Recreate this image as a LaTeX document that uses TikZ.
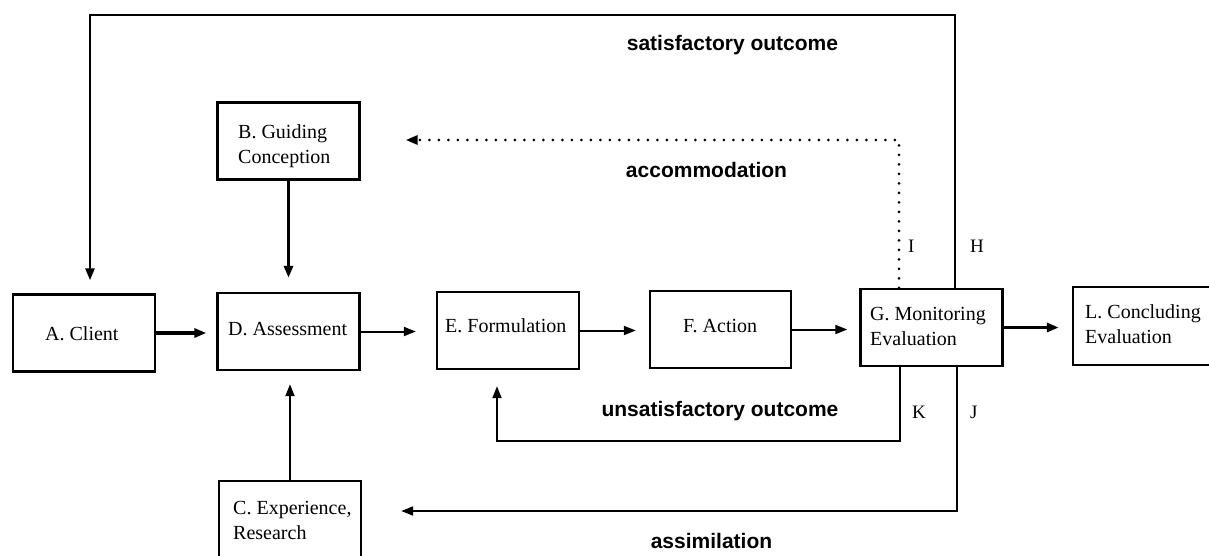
\documentclass[tikz,border=0pt]{standalone}
\usepackage{fontspec}
\setmainfont{Liberation Serif}
\newfontfamily\lblfont{Liberation Sans}
\usetikzlibrary{arrows.meta}
\begin{document}
\begin{tikzpicture}[x=1pt,y=-1pt,
  box/.style={draw,line width=2.4pt,inner sep=0pt,minimum width=142pt,minimum height=77pt},
  txt/.style={inner sep=0pt,align=left,font=\fontsize{20}{25}\selectfont,anchor=base west},
  letter/.style={inner sep=0pt,font=\fontsize{19}{22}\selectfont,anchor=base west},
  lbl/.style={inner sep=0pt,font=\lblfont\bfseries\fontsize{21}{24}\selectfont,anchor=base},
  tip/.style={-{Triangle[length=12pt,width=9pt]}},
  conn/.style={tip,line width=2pt},
  heavy/.style={tip,line width=3.5pt},
  dots/.style={-{Triangle[length=12pt,width=9pt]},line width=3pt,line cap=round,dash pattern=on 0pt off 9.5pt}
]
\useasboundingbox (0,0) rectangle (1209,555);
\clip (0,0) rectangle (1209,555);
% boxes
\node[box] (A) at (84,333) {};
\node[box] (B) at (288.5,141) {};
\node[box,minimum height=92pt] (C) at (290,527) {};
\node[box] (D) at (288.5,331.5) {};
\node[box] (E) at (508,330.5) {};
\node[box,minimum width=141pt] (F) at (720.5,329.5) {};
\node[box] (G) at (931.5,327.5) {};
\node[box,minimum width=152pt,minimum height=78pt] (L) at (1149,326) {};
% box texts (multi-line: base = last line)
\node[txt] (At) at (45,340) {A. Client};
\node[txt] (Bt) at (238,163) {B. Guiding\\Conception};
\node[txt] (Ct) at (233,539) {C. Experience,\\Research};
\node[txt] (Dt) at (228,335) {D. Assessment};
\node[txt] (Et) at (445,332) {E. Formulation};
\node[txt] (Ft) at (683,332) {F. Action};
\node[txt] (Gt) at (870,345) {G. Monitoring\\Evaluation};
\node[txt] (Lt) at (1085,343) {L. Concluding\\Evaluation};
% straight connectors
\draw[heavy,shorten >=10pt] (A.east) -- (A.east -| D.west);
\draw[conn,shorten >=20pt] (D.east) -- (D.east -| E.west);
\draw[conn,shorten >=13pt] (E.east) -- (E.east -| F.west);
\draw[conn,shorten >=12pt] (F.east) -- (F.east -| G.west);
\draw[heavy,shorten >=13pt] (G.east) -- (G.east -| L.west);
\draw[heavy,shorten >=14pt] (B.south) -- (B.south |- D.north);
\draw[conn,shorten >=13pt] (C.north) -- (C.north |- D.south);
% H: satisfactory outcome
\coordinate (h1) at (955,15);
\coordinate (h2) at (90,15);
\draw[conn,line width=2.6pt,shorten >=13pt] (G.north -| h1) -- (h1) -- (h2) -- (h2 |- A.north);
% I: accommodation (dotted)
\coordinate (i1) at (899,140);
\draw[dots,shorten >=45pt] (G.north -| i1) -- (i1) -- (i1 -| B.east);
% K: unsatisfactory outcome
\coordinate (k1) at (900,441);
\coordinate (k2) at (497,441);
\draw[conn,shorten >=16pt] (G.south -| k1) -- (k1) -- (k2) -- (k2 |- E.south);
% J: assimilation
\coordinate (j1) at (957,511);
\draw[conn,shorten >=39pt] (G.south -| j1) -- (j1) -- (j1 -| C.east);
% letters
\node[letter] (I) at (908,252) {I};
\node[letter] (H) at (970,252) {H};
\node[letter] (K) at (912,418) {K};
\node[letter] (J) at (970,418) {J};
% bold labels
\node[lbl] (sat) at (732.5,50) {satisfactory outcome};
\node[lbl] (acc) at (706.5,177) {accommodation};
\node[lbl] (uns) at (720,416) {unsatisfactory outcome};
\node[lbl] (ass) at (711.5,548) {assimilation};
\end{tikzpicture}
\end{document}
